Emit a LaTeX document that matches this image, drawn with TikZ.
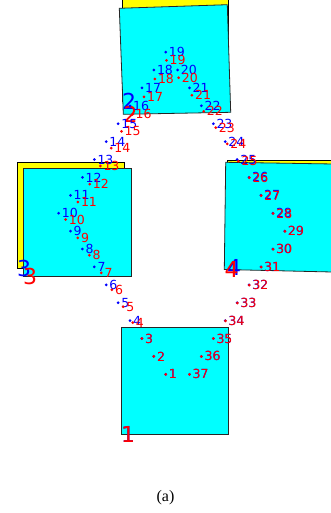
\documentclass[tikz,border=0pt]{standalone}
\usepackage{fontspec}
\setmainfont{Liberation Serif}
\newfontfamily\labelfont{DejaVu Sans}
\usetikzlibrary{positioning}
\definecolor{sqcyan}{RGB}{0,255,255}
\definecolor{sqyellow}{RGB}{255,255,0}
\definecolor{ptblue}{RGB}{0,0,255}
\definecolor{ptred}{RGB}{255,0,0}
\tikzset{
    bluedot/.style={circle, fill=ptblue, inner sep=0pt, minimum size=3pt},
    reddot/.style={circle, fill=ptred, inner sep=0pt, minimum size=3pt},
    ptlabel/.style={anchor=west, inner sep=1.3pt, font=\labelfont\fontsize{12.5}{12.5}\selectfont},
    boxlabel/.style={anchor=west, inner sep=0pt, font=\labelfont\fontsize{22}{22}\selectfont},
    yellowsq/.style={draw=black, fill=sqyellow, line width=0.8pt},
    cyansq/.style={draw=black!85, fill=sqcyan, line width=0.8pt}
}
% index / lattice column / lattice row / red shift x / red shift y
\def\ptlist{1/0/0/0/0, 2/-1/1/0/0, 3/-2/2/0/0, 4/-3/3/2.7/2, 5/-4/4/5/4,
    6/-5/5/5.7/5, 7/-6/6/7/6, 8/-7/7/7/6.3, 9/-8/8/7.3/6.7, 10/-9/9/7/6.3,
    11/-8/10/7.3/6.7, 12/-7/11/7.3/6.7, 13/-6/12/6/6.5, 14/-5/13/5/6.6,
    15/-4/14/3.4/7.7, 16/-3/15/2.5/8.5, 17/-2/16/2/9, 18/-1/17/1/9,
    19/0/18/0.7/8.3, 20/1/17/1/7.7, 21/2/16/2.4/7.3, 22/3/15/2.3/5.5,
    23/4/14/2.4/4, 24/5/13/2/2.3, 25/6/12/1.3/1.7, 26/7/11/0.3/0.3,
    27/8/10/0.3/0.3, 28/9/9/0.3/0.3, 29/10/8/0.3/0.3, 30/9/7/0.3/0.3,
    31/8/6/0.3/0.3, 32/7/5/0.3/0.3, 33/6/4/0.3/0.3, 34/5/3/0.3/0.3,
    35/4/2/0/0, 36/3/1/0/0, 37/2/0/0/0}

\begin{document}
\begin{tikzpicture}[x=1pt, y=-1pt]
\useasboundingbox (0,0) rectangle (331,513);
\clip (0,0) rectangle (331,513);
% yellow squares
\draw[yellowsq] (121,327) rectangle (228,434);
\draw[yellowsq] (122,-5) rectangle (228,101);
\draw[yellowsq] (17,162) rectangle (124,268);
\draw[yellowsq] (227,160) rectangle (335,267);
% cyan squares
\draw[cyansq] (121,327) rectangle (228,434);
\draw[cyansq] (119.3,8.3) -- (227.3,4.7) -- (230.7,112.3) -- (123.3,114.3) -- cycle;
\draw[cyansq] (23,168) rectangle (131,276);
\draw[cyansq] (225.7,162.3) -- (333.5,164) -- (332,272) -- (224.3,269.5) -- cycle;
% corner numbers
\node[boxlabel, text=ptblue] (ya) at (121,434) {1};
\node[boxlabel, text=ptblue] (yb) at (122,101) {2};
\node[boxlabel, text=ptblue] (yc) at (17,268) {3};
\node[boxlabel, text=ptblue] (yd) at (227,267) {4};
\node[boxlabel, text=ptred] (ca) at (121,434) {1};
\node[boxlabel, text=ptred] (cb) at (123.3,114.3) {2};
\node[boxlabel, text=ptred] (cc) at (23,276) {3};
\node[boxlabel, text=ptred] (cd) at (224.3,269.5) {4};
% points
\foreach \i/\gi/\gj/\dx/\dy in \ptlist {
    \node[bluedot] (b\i) at ({165.7+11.9*\gi},{374.3-17.9*\gj}) {};
    \node[ptlabel, text=ptblue] (bl\i) at (b\i.east) {\i};
}
\foreach \i/\gi/\gj/\dx/\dy in \ptlist {
    \node[reddot] (r\i) at ({165.7+11.9*\gi+\dx},{374.3-17.9*\gj+\dy}) {};
    \node[ptlabel, text=ptred] (rl\i) at (r\i.east) {\i};
}
\node[font=\fontsize{16}{16}\selectfont] (caption) at (165.5,498) {(a)};
\end{tikzpicture}
\end{document}
